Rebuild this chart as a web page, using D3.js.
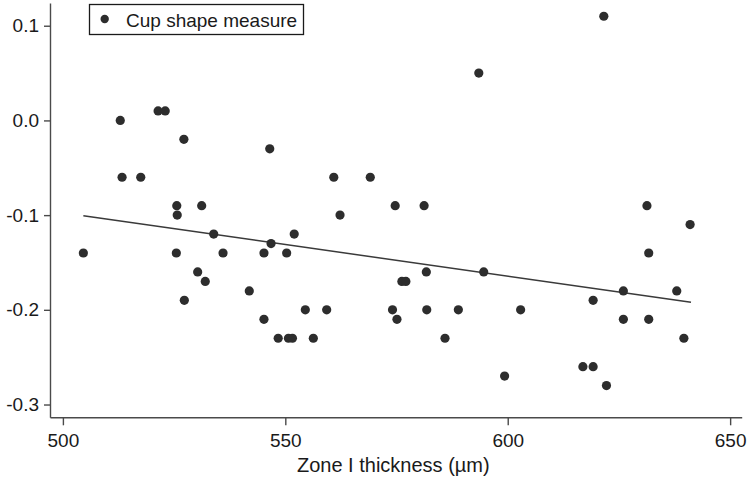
<!DOCTYPE html>
<html>
<head>
<meta charset="utf-8">
<script src="https://cdn.jsdelivr.net/npm/d3@7"></script>
<style>
  html, body { margin: 0; padding: 0; background: #fff; }
  svg text { font-family: "Liberation Sans", Arial, Helvetica, sans-serif; fill: #1a1a1a; }
</style>
</head>
<body>
<svg id="chart" width="748" height="479"></svg>
<script>
// Zone I thickness (µm)
const thickness = [
  504.6, 512.9, 521.4, 523.0, 527.2, 513.3, 517.5, 525.6, 525.7, 531.2,
  533.9, 525.5, 536.0, 530.3, 532.0, 541.9, 527.3, 546.5, 560.9, 569.1,
  574.7, 581.2, 562.3, 552.0, 546.8, 545.2, 550.3, 581.7, 594.6, 576.2,
  577.1, 554.5, 559.3, 574.1, 581.8, 588.9, 545.2, 575.1, 548.4, 550.7,
  551.6, 556.3, 585.9, 621.6, 593.5, 631.3, 641.0, 631.7, 626.0, 638.0,
  619.2, 602.9, 626.0, 631.7, 639.6, 616.9, 619.2, 622.2, 599.3
];
// Cup shape measure
const cupShape = [
  -0.14, 0.00, 0.01, 0.01, -0.02, -0.06, -0.06, -0.09, -0.10, -0.09,
  -0.12, -0.14, -0.14, -0.16, -0.17, -0.18, -0.19, -0.03, -0.06, -0.06,
  -0.09, -0.09, -0.10, -0.12, -0.13, -0.14, -0.14, -0.16, -0.16, -0.17,
  -0.17, -0.20, -0.20, -0.20, -0.20, -0.20, -0.21, -0.21, -0.23, -0.23,
  -0.23, -0.23, -0.23, 0.11, 0.05, -0.09, -0.11, -0.14, -0.18, -0.18,
  -0.19, -0.20, -0.21, -0.21, -0.23, -0.26, -0.26, -0.28, -0.27
];
// fitted line end points
const fitX = [504.6, 641.2];
const fitY = [-0.1006, -0.1921];

const xTicks = [500, 550, 600, 650];
const yTicks = [0.1, 0.0, -0.1, -0.2, -0.3];
const yTickLabels = ["0.1", "0.0", "-0.1", "-0.2", "-0.3"];
const xTitle = "Zone I thickness (\u00B5m)";
const legendLabel = "Cup shape measure";

const svg = d3.select("#chart");
const x = d3.scaleLinear().domain([497.1, 652.6]).range([50, 741.7]);
const y = d3.scaleLinear().domain([-0.3135, 0.124]).range([417.3, 3]);

const axisColor = "#4a4a4a";

// X axis
const gx = svg.append("g").attr("transform", "translate(0,417.3)")
  .call(d3.axisBottom(x).tickValues(xTicks).tickSize(8).tickSizeOuter(0).tickPadding(8).tickFormat(d3.format("d")));
gx.selectAll("text").attr("font-size", 19);

// Y axis
const gy = svg.append("g").attr("transform", "translate(50,0)")
  .call(d3.axisLeft(y).tickValues(yTicks).tickSize(6).tickSizeOuter(0).tickPadding(5)
    .tickFormat((d, i) => yTickLabels[i]));
gy.selectAll("text").attr("font-size", 19);

svg.selectAll(".domain, .tick line").attr("stroke", axisColor).attr("stroke-width", 1.4);
svg.selectAll(".tick text").attr("fill", "#1a1a1a");

// Fit line
svg.append("line")
  .attr("x1", x(fitX[0])).attr("y1", y(fitY[0]))
  .attr("x2", x(fitX[1])).attr("y2", y(fitY[1]))
  .attr("stroke", "#3a3a3a").attr("stroke-width", 1.5);

// Points
svg.append("g").selectAll("circle")
  .data(thickness.map((t, i) => [t, cupShape[i]]))
  .join("circle")
  .attr("cx", d => x(d[0])).attr("cy", d => y(d[1]))
  .attr("r", 4.6).attr("fill", "#2d2d2d");

// X title
svg.append("text").attr("x", 393.3).attr("y", 472.3).attr("text-anchor", "middle")
  .attr("font-size", 20).text(xTitle);

// Legend
const lg = svg.append("g");
lg.append("rect").attr("x", 89.5).attr("y", 4.5).attr("width", 214).attr("height", 30)
  .attr("fill", "#fff").attr("stroke", "#1a1a1a").attr("stroke-width", 1.3);
lg.append("circle").attr("cx", 104.7).attr("cy", 19).attr("r", 4.2).attr("fill", "#2d2d2d");
lg.append("text").attr("x", 126).attr("y", 26.5).attr("font-size", 19).text(legendLabel);
</script>
</body>
</html>
